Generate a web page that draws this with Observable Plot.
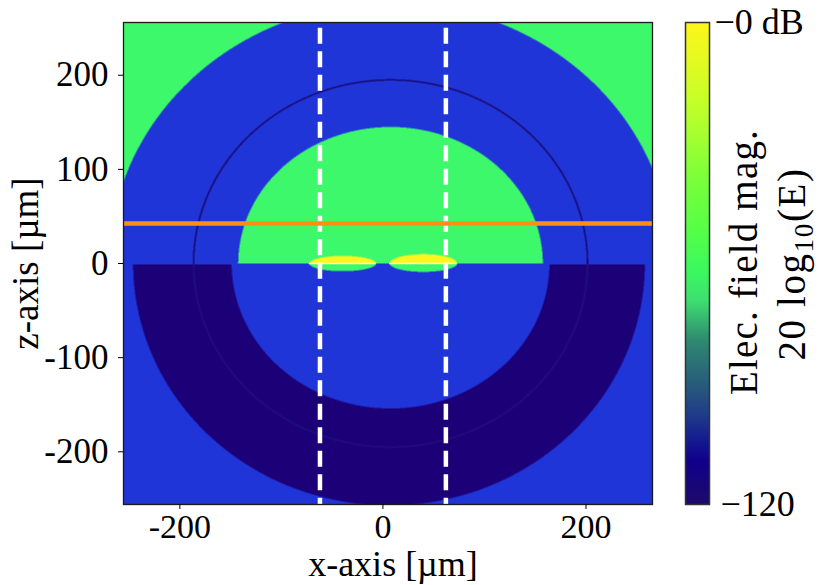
<!DOCTYPE html>
<html>
<head>
<meta charset="utf-8">
<script src="https://cdn.jsdelivr.net/npm/d3@7"></script>
<script src="https://cdn.jsdelivr.net/npm/@observablehq/plot@0.6"></script>
<style>
  html, body { margin: 0; background: #fff; }
  #chart { position: relative; width: 831px; height: 585px; overflow: hidden; font-family: "Liberation Serif", serif; color: #000; }
  #chart svg { position: absolute; left: 0; top: 0; background: transparent; }
  .cbar-label { position: absolute; font-size: 39px; line-height: 1; white-space: nowrap; transform: translate(-50%, -50%) rotate(-90deg); }
  .cbar-label sub { font-size: 27px; line-height: 0; }
</style>
</head>
<body>
<div id="chart">
  <div class="cbar-label" style="left:743px; top:262px; letter-spacing:1.2px;">Elec. field mag.</div>
  <div class="cbar-label" style="left:791px; top:264px; letter-spacing:1.6px;">20 log<sub>10</sub>(E)</div>
</div>
<script>
// axes
const xDomain = [-255.5, 265.5];
const zDomain = [-256, 256];
const xTicks = [-200, 0, 200];
const zTicks = [-200, -100, 0, 100, 200];

// regions of the field, in µm, as [x radius, z radius]
const centerX = 7.5;
const shellCenterX = 6;
const lensRadius = [150, 145];    // green half disc above z=0
const ringRadius = [194, 195];    // thin ring
const outerRadius = [277, 277];   // green outside this, above z=0
const shellInner = [156.5, 154];  // dark shell below z=0
const shellOuter = [252, 257];
const lobeCenters = [-39.6, 39.9];
const lobeHalfWidths = [32.9, 33.2];
const lobeUpper = [8, 9.9];
const lobeLower = [8.2, 8.9];

// probe lines
const probeX = [-62, 62];
const beamZ = [42.5];

const zoneNames = ["green", "blue", "dark", "ring", "ringLow", "yellow"];
const zoneColors = ["#3ef86c", "#2035d8", "#1c0078", "#18086c", "#20107e", "#fdf61a"];

// colorbar
const barStops = [-120, -109, -104, -97, -89, -79, -69, -62, -52, -39, -19, 0];
const barColors = ["#1e0a6a", "#10008c", "#141a90", "#203f88", "#28607a", "#2f8a70", "#3ee070", "#3af860", "#55ff48", "#7aff3a", "#c8ff28", "#fff51a"];

const norm = (dx, z, [rx, rz]) => Math.hypot(dx / rx, z / rz);

const zone = (x, z) => {
  const dx = x - centerX;
  // the two small lobes sit on top of everything
  for (let i = 0; i < lobeCenters.length; i++) {
    const u = (x - lobeCenters[i]) / lobeHalfWidths[i];
    const v = z / (z > 0 ? lobeUpper[i] : lobeLower[i]);
    if (u * u + v * v < 1) return z > 0 ? "yellow" : "green";
  }
  if (Math.abs(norm(dx, z, ringRadius) - 1) < 0.004) return z > 0 ? "ring" : "ringLow";
  if (z > 0) {
    if (norm(dx, z, lensRadius) < 1 || norm(dx, z, outerRadius) > 1) return "green";
    return "blue";
  }
  if (z < -1 && norm(dx, z, shellInner) > 1 && norm(x - shellCenterX, z, shellOuter) < 1) return "dark";
  return "blue";
};

const plotStyle = {fontFamily: "Liberation Serif, serif", fontSize: "35px", color: "#000", background: "transparent", overflow: "visible"};

const field = Plot.plot({
  width: 831, height: 585,
  marginLeft: 123, marginRight: 179, marginTop: 22, marginBottom: 81,
  style: plotStyle,
  x: {domain: xDomain},
  y: {domain: zDomain},
  color: {type: "ordinal", domain: zoneNames, range: zoneColors},
  marks: [
    Plot.raster({fill: zone, x1: xDomain[0], x2: xDomain[1], y1: zDomain[0], y2: zDomain[1], pixelSize: 0.5}),
    // seam across the lobes
    Plot.ruleY([0], {x1: lobeCenters[0] - lobeHalfWidths[0], x2: lobeCenters[0] + lobeHalfWidths[0], stroke: "#fffde0", strokeWidth: 1.3}),
    Plot.ruleY([0], {x1: lobeCenters[1] - lobeHalfWidths[1], x2: lobeCenters[1] + lobeHalfWidths[1], stroke: "#fffde0", strokeWidth: 1.3}),
    Plot.ruleX(probeX, {y1: 250, y2: zDomain[0], stroke: "#fff", strokeWidth: 4.5, strokeDasharray: "16 7.5"}),
    Plot.ruleY(beamZ, {stroke: "#ff8f14", strokeWidth: 4.5}),
    Plot.frame({stroke: "#1a1a1a", strokeWidth: 1.3}),
    Plot.axisX({ticks: xTicks, tickSize: 5, tickPadding: 4, tickFormat: d => String(d), label: null, fontSize: 34}),
    Plot.axisY({ticks: zTicks, tickSize: 5, tickPadding: 10, tickFormat: d => String(d), label: null, fontSize: 35}),
    Plot.text(["x-axis [µm]"], {frameAnchor: "bottom", dx: 5, dy: 60, lineAnchor: "middle", fontSize: 36}),
    Plot.axisY({ticks: [], tickSize: 0, label: "z-axis [µm]", labelAnchor: "center", labelArrow: "none", labelOffset: 112, fontSize: 37})
  ]
});

const bar = Plot.plot({
  width: 831, height: 585,
  marginLeft: 685, marginRight: 122, marginTop: 22, marginBottom: 81,
  style: plotStyle,
  x: {domain: [0, 1], axis: null},
  y: {domain: [barStops[0], barStops[barStops.length - 1]], axis: null},
  color: {type: "linear", domain: barStops, range: barColors},
  marks: [
    Plot.raster({fill: (x, y) => y, x1: 0, x2: 1, y1: barStops[0], y2: 0, pixelSize: 1}),
    Plot.frame({stroke: "#333", strokeWidth: 1.5}),
    Plot.axisY({anchor: "right", ticks: [0], tickSize: 0, tickPadding: 5, label: null, textAnchor: "start", tickFormat: () => "−0 dB", fontSize: 36}),
    Plot.axisY({anchor: "right", ticks: [-120], tickSize: 0, tickPadding: 11, label: null, textAnchor: "start", tickFormat: () => "−120", fontSize: 36})
  ]
});

const chart = document.querySelector("#chart");
chart.prepend(bar);
chart.prepend(field);
</script>
</body>
</html>
